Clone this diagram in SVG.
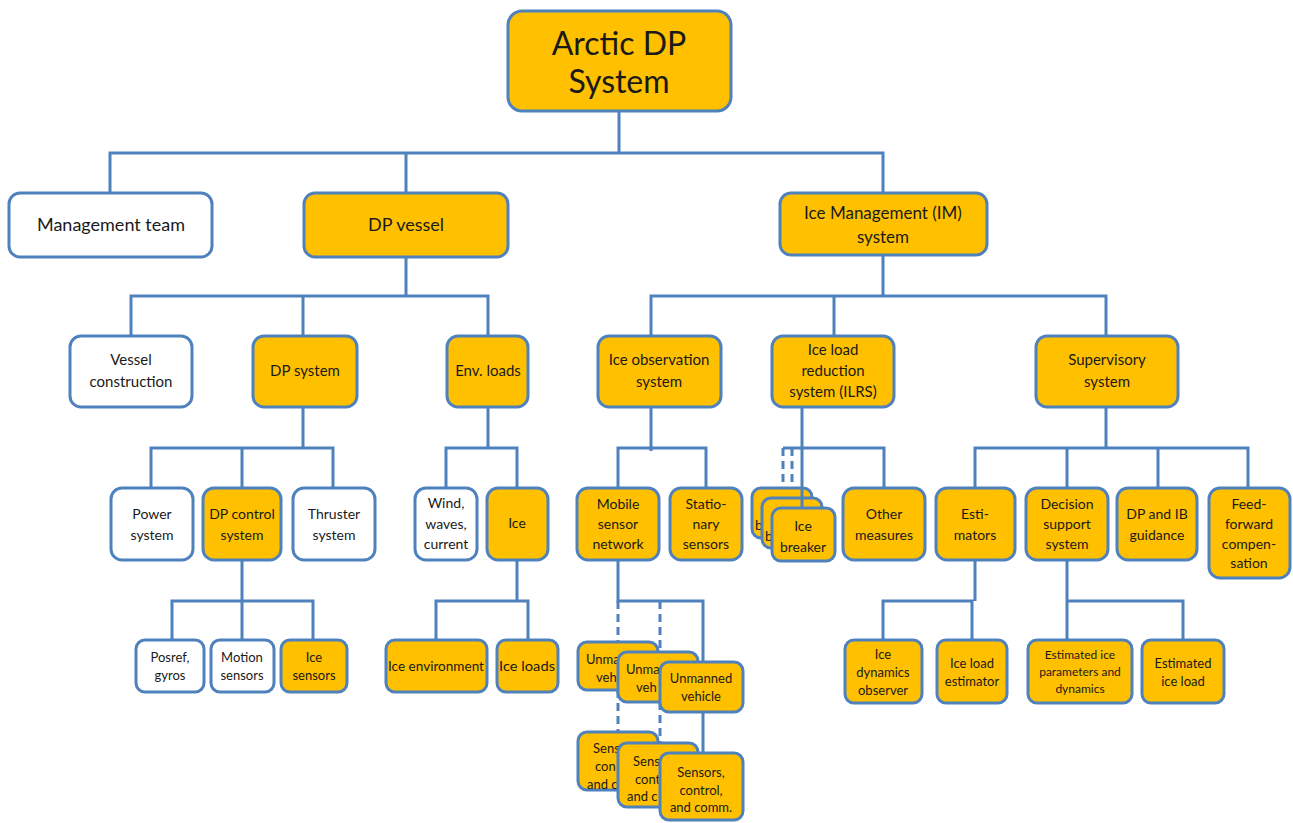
<svg xmlns="http://www.w3.org/2000/svg" width="1293" height="823" viewBox="0 0 1293 823">
<style>
.b{stroke:#4F81BD;stroke-width:3;}
.f{fill:#FFC000;}
.w{fill:#FFFFFF;}
.c{fill:none;stroke:#4F81BD;stroke-width:3;}
.d{fill:none;stroke:#4F81BD;stroke-width:3;stroke-dasharray:8 5;}
text{font-family:Lato,"Open Sans","Liberation Sans",sans-serif;fill:#1a1a1a;text-anchor:middle;}
text.s{text-anchor:start;}
.t32{font-size:32px;}
.t18{font-size:18px;}
.t17{font-size:17px;}
.t15{font-size:15px;}
.t14{font-size:14px;}
.t13{font-size:13px;}
.t12{font-size:12px;}
</style>
<rect width="1293" height="823" fill="#FFFFFF"/>
<g id="connectors">
<path class="c" d="M619 111V153M110 193V153H883V193M406 153V193"/>
<path class="c" d="M406 257V296M131 336V296H488V336M303 296V336"/>
<path class="c" d="M303 407V448M151 488V448H333V488M242 448V488"/>
<path class="c" d="M242 560V601M172 640V601H313V640M242 601V640"/>
<path class="c" d="M488 407V448M446 488V448H517V488"/>
<path class="c" d="M517 560V601M436 640V601H528V640"/>
<path class="c" d="M883 255V296M651 336V296H1106V336M834 296V336"/>
<path class="c" d="M651 407V451M618 488V448H706V488"/>
<path class="c" d="M783 448H884V488"/>
<path class="d" d="M783 448V488M792 448V498"/>
<path class="c" d="M1106 407V448M975 488V448H1248V488M1067 448V488M1158 448V488"/>
<path class="c" d="M975 560V601M883 640V601H972V640"/>
<path class="c" d="M1067 560V640M1067 601H1183V640"/>
<path class="c" d="M618 560V601H703V662"/>
<path class="d" d="M618 601V642M660 601V652"/>
<path class="d" d="M618 690V732M660 702V743"/>
<path class="c" d="M703 712V753"/>
</g>
<g id="root"><rect class="b f" x="508" y="11" width="223" height="100" rx="14"/><text class="t32" x="619" y="55">Arctic DP</text><text class="t32" x="619" y="93">System</text></g>
<g id="management-team"><rect class="b w" x="9" y="193" width="203" height="64" rx="11"/><text class="t18" x="111" y="231">Management team</text></g>
<g id="dp-vessel"><rect class="b f" x="304" y="193" width="204" height="64" rx="11"/><text class="t18" x="406" y="231">DP vessel</text></g>
<g id="im-system"><rect class="b f" x="780" y="193" width="207" height="62" rx="11"/><text class="t17" x="883" y="219">Ice Management (IM)</text><text class="t17" x="883" y="243">system</text></g>
<g id="vessel-construction"><rect class="b w" x="70" y="336" width="122" height="71" rx="11"/><text class="t15" x="131" y="365">Vessel</text><text class="t15" x="131" y="387">construction</text></g>
<g id="dp-system"><rect class="b f" x="253" y="336" width="104" height="71" rx="11"/><text class="t15" x="305" y="376">DP system</text></g>
<g id="env-loads"><rect class="b f" x="447" y="336" width="81" height="71" rx="11"/><text class="t15" x="488" y="376">Env. loads</text></g>
<g id="ice-observation-system"><rect class="b f" x="598" y="336" width="123" height="71" rx="11"/><text class="t15" x="659" y="365">Ice observation</text><text class="t15" x="659" y="387">system</text></g>
<g id="ilrs"><rect class="b f" x="772" y="336" width="122" height="71" rx="11"/><text class="t15" x="833" y="355">Ice load</text><text class="t15" x="833" y="376">reduction</text><text class="t15" x="833" y="397">system (ILRS)</text></g>
<g id="supervisory-system"><rect class="b f" x="1036" y="336" width="142" height="71" rx="11"/><text class="t15" x="1107" y="365">Supervisory</text><text class="t15" x="1107" y="387">system</text></g>
<g id="power-system"><rect class="b w" x="111" y="488" width="82" height="72" rx="11"/><text class="t14" x="152" y="519">Power</text><text class="t14" x="152" y="540">system</text></g>
<g id="dp-control-system"><rect class="b f" x="203" y="488" width="78" height="72" rx="11"/><text class="t14" x="242" y="519">DP control</text><text class="t14" x="242" y="540">system</text></g>
<g id="thruster-system"><rect class="b w" x="293" y="488" width="82" height="72" rx="11"/><text class="t14" x="334" y="519">Thruster</text><text class="t14" x="334" y="540">system</text></g>
<g id="wind-waves-current"><rect class="b w" x="415" y="488" width="62" height="72" rx="11"/><text class="t14" x="446" y="508">Wind,</text><text class="t14" x="446" y="529">waves,</text><text class="t14" x="446" y="549">current</text></g>
<g id="ice"><rect class="b f" x="487" y="488" width="61" height="72" rx="11"/><text class="t14" x="517" y="528">Ice</text></g>
<g id="mobile-sensor-network"><rect class="b f" x="577" y="488" width="82" height="72" rx="11"/><text class="t14" x="618" y="509">Mobile</text><text class="t14" x="618" y="529">sensor</text><text class="t14" x="618" y="549">network</text></g>
<g id="stationary-sensors"><rect class="b f" x="670" y="488" width="72" height="72" rx="11"/><text class="t14" x="706" y="509">Statio-</text><text class="t14" x="706" y="529">nary</text><text class="t14" x="706" y="549">sensors</text></g>
<g id="ice-breaker-1"><rect class="b f" x="752" y="488" width="60" height="50" rx="9"/><text class="t14 s" x="755" y="530">b</text></g>
<g id="ice-breaker-2"><rect class="b f" x="762" y="498" width="60" height="50" rx="9"/><text class="t14 s" x="765" y="541">b</text></g>
<path class="c" d="M802 407V508"/>
<g id="ice-breaker-3"><rect class="b f" x="772" y="508" width="63" height="53" rx="9"/><text class="t14" x="803" y="531">Ice</text><text class="t14" x="803" y="552">breaker</text></g>
<g id="other-measures"><rect class="b f" x="843" y="488" width="82" height="72" rx="11"/><text class="t14" x="884" y="519">Other</text><text class="t14" x="884" y="540">measures</text></g>
<g id="estimators"><rect class="b f" x="936" y="488" width="79" height="72" rx="11"/><text class="t14" x="975" y="519">Esti-</text><text class="t14" x="975" y="540">mators</text></g>
<g id="decision-support-system"><rect class="b f" x="1026" y="488" width="82" height="72" rx="11"/><text class="t14" x="1067" y="509">Decision</text><text class="t14" x="1067" y="529">support</text><text class="t14" x="1067" y="549">system</text></g>
<g id="dp-ib-guidance"><rect class="b f" x="1117" y="488" width="80" height="72" rx="11"/><text class="t14" x="1157" y="519">DP and IB</text><text class="t14" x="1157" y="540">guidance</text></g>
<g id="feed-forward"><rect class="b f" x="1209" y="488" width="81" height="90" rx="11"/><text class="t14" x="1249" y="509">Feed-</text><text class="t14" x="1249" y="529">forward</text><text class="t14" x="1249" y="549">compen-</text><text class="t14" x="1249" y="568">sation</text></g>
<g id="posref-gyros"><rect class="b w" x="136" y="640" width="68" height="52" rx="9"/><text class="t13" x="170" y="662">Posref,</text><text class="t13" x="170" y="680">gyros</text></g>
<g id="motion-sensors"><rect class="b w" x="211" y="640" width="63" height="52" rx="9"/><text class="t13" x="242" y="662">Motion</text><text class="t13" x="242" y="680">sensors</text></g>
<g id="ice-sensors"><rect class="b f" x="281" y="640" width="66" height="52" rx="9"/><text class="t13" x="314" y="662">Ice</text><text class="t13" x="314" y="680">sensors</text></g>
<g id="ice-environment"><rect class="b f" x="386" y="640" width="101" height="52" rx="9"/><text class="t13" x="436" y="671" textLength="96" lengthAdjust="spacingAndGlyphs">Ice environment</text></g>
<g id="ice-loads"><rect class="b f" x="497" y="640" width="61" height="52" rx="9"/><text class="t13" x="527" y="671" textLength="56" lengthAdjust="spacingAndGlyphs">Ice loads</text></g>
<g id="unmanned-vehicle-1"><rect class="b f" x="578" y="642" width="80" height="48" rx="9"/><text class="t13 s" x="586" y="664">Unma</text><text class="t13 s" x="596" y="682">veh</text></g>
<g id="unmanned-vehicle-2"><rect class="b f" x="618" y="652" width="80" height="50" rx="9"/><text class="t13 s" x="626" y="674">Unma</text><text class="t13 s" x="636" y="692">veh</text></g>
<g id="unmanned-vehicle-3"><rect class="b f" x="660" y="662" width="83" height="50" rx="9"/><text class="t13" x="701" y="683">Unmanned</text><text class="t13" x="701" y="701">vehicle</text></g>
<g id="sensors-control-comm-1"><rect class="b f" x="578" y="732" width="80" height="58" rx="9"/><text class="t13 s" x="593" y="753">Sens</text><text class="t13 s" x="595" y="771">con</text><text class="t13 s" x="587" y="789">and c</text></g>
<g id="sensors-control-comm-2"><rect class="b f" x="618" y="743" width="80" height="64" rx="9"/><text class="t13 s" x="633" y="766">Sens</text><text class="t13 s" x="635" y="784">cont</text><text class="t13 s" x="627" y="801">and c</text></g>
<g id="sensors-control-comm-3"><rect class="b f" x="660" y="753" width="83" height="67" rx="9"/><text class="t13" x="701" y="777">Sensors,</text><text class="t13" x="701" y="795">control,</text><text class="t13" x="701" y="812">and comm.</text></g>
<g id="ice-dynamics-observer"><rect class="b f" x="845" y="640" width="77" height="63" rx="9"/><text class="t13" x="883" y="659">Ice</text><text class="t13" x="883" y="677">dynamics</text><text class="t13" x="883" y="695">observer</text></g>
<g id="ice-load-estimator"><rect class="b f" x="937" y="640" width="70" height="63" rx="9"/><text class="t13" x="972" y="668">Ice load</text><text class="t13" x="972" y="686">estimator</text></g>
<g id="estimated-ice-parameters"><rect class="b f" x="1028" y="640" width="104" height="63" rx="9"/><text class="t12" x="1080" y="659">Estimated ice</text><text class="t12" x="1080" y="676">parameters and</text><text class="t12" x="1080" y="693">dynamics</text></g>
<g id="estimated-ice-load"><rect class="b f" x="1142" y="640" width="82" height="63" rx="9"/><text class="t13" x="1183" y="668">Estimated</text><text class="t13" x="1183" y="686">ice load</text></g>
</svg>
